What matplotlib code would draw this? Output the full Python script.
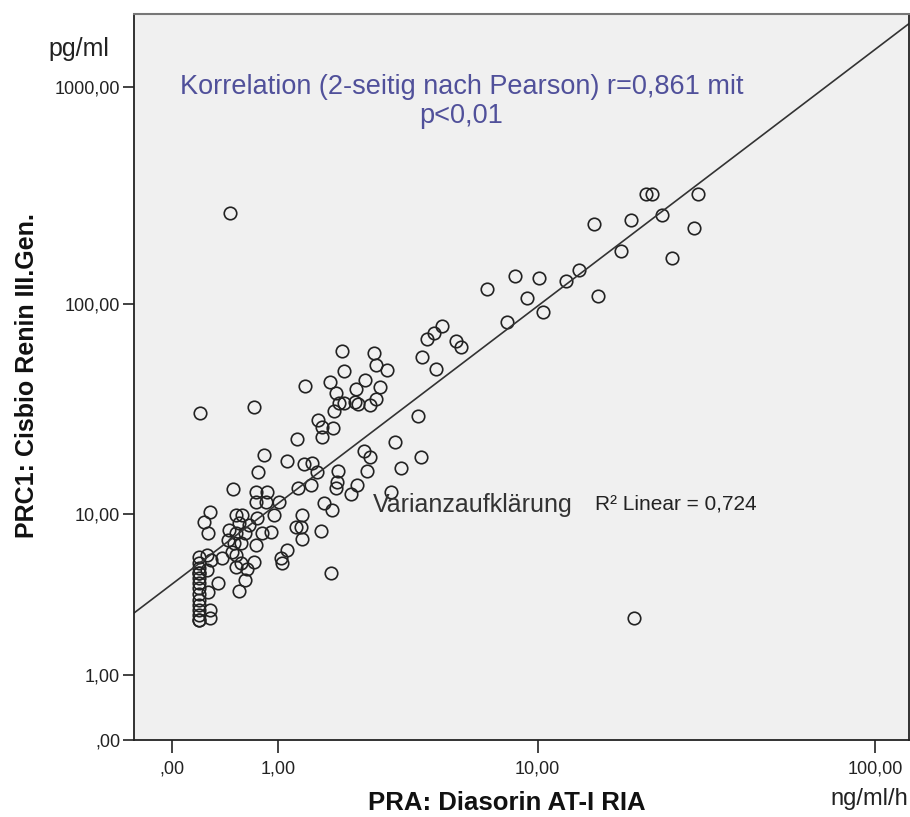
import numpy as np
import matplotlib
matplotlib.use("Agg")
import matplotlib.pyplot as plt
from matplotlib.ticker import NullLocator

plt.rcParams['font.family'] = ['Liberation Sans', 'DejaVu Sans']

# PRA (ng/ml/h) vs PRC (pg/ml)
pra_upper = [21.4, 22.3, 30.5, 14.9, 19.3, 23.9, 29.7, 18.0, 25.5, 6.9,
             8.5, 10.1, 12.3, 13.4, 9.3, 15.4, 10.4, 8.0, 4.89, 4.59,
             4.34, 5.46, 5.68, 4.17, 4.66]
prc_upper = [323, 323, 323, 235, 245, 258, 225, 176, 163, 117,
             135, 132, 128, 144, 107, 109, 92, 82.5, 79, 73.3,
             68.8, 67.3, 63, 56.7, 49.8]

pra_outl = [0.46, 0.20, 0.71, 19.7, 1.84]
prc_outl = [264, 30.9, 33, 2.64, 4.86]

pra_mid = [2.04, 2.77, 2.82, 3.11, 2.08, 1.82, 2.55, 2.92, 1.40, 1.94,
           2.35, 2.00, 2.10, 2.33, 2.39, 2.67, 2.82, 1.90, 1.61, 1.68,
           1.88, 1.68, 1.27, 4.03, 3.33, 2.53, 2.67, 2.60, 4.13, 3.50,
           3.22]
prc_mid = [60.4, 59.2, 52, 49.2, 48.7, 43.3, 44.2, 41, 41.4, 38.4,
           40.1, 34.4, 34.4, 34.8, 34.0, 33.7, 36, 31.5, 28.6, 26.5,
           26.2, 23.7, 23.2, 29.9, 22.4, 20.3, 19, 16.25, 19, 16.8,
           12.8]

pra_midlow = [0.83, 1.13, 1.38, 1.51, 1.58, 0.76, 1.98, 1.96, 1.94, 2.37,
              2.24, 1.71, 1.86, 1.66]
prc_midlow = [19.4, 18.2, 17.6, 17.8, 16.1, 16.1, 16.25, 14.36, 13.4, 13.87,
              12.5, 11.3, 10.4, 8.14]

pra_low = [0.49, 1.28, 1.49, 0.74, 0.87, 0.74, 0.85, 1.02, 0.28, 0.23,
           0.52, 0.58, 0.75, 0.95, 1.35, 1.26, 1.33, 0.55, 0.66, 0.27,
           0.44, 0.52, 0.61, 0.81, 0.92, 0.45, 0.50, 0.57, 0.74, 1.35,
           1.13, 1.05, 1.06, 0.48, 0.52, 0.39, 0.29, 0.57, 0.71, 0.52,
           0.63, 0.26, 0.61, 0.35, 0.27, 0.55, 0.28, 0.28, 0.26]
prc_low = [13.26, 13.4, 13.87, 12.8, 12.8, 11.43, 11.43, 11.43, 10.18, 9.05,
           9.83, 9.83, 9.49, 9.83, 9.83, 8.54, 8.54, 8.95, 8.74, 7.95,
           7.31, 7.95, 7.95, 7.95, 8.04, 8.24, 7.05, 7.05, 6.88, 7.4,
           6.47, 5.87, 5.51, 6.32, 6.09, 5.87, 5.73, 5.51, 5.58, 5.24,
           5.11, 5.05, 4.44, 4.27, 3.79, 3.85, 2.64, 2.96, 6.09]

# detection-limit column
pra_col = [0.19, 0.19, 0.19, 0.19, 0.19, 0.19, 0.19, 0.19, 0.19, 0.19,
           0.19, 0.19, 0.19, 0.19, 0.19]
prc_col = [5.94, 5.51, 5.18, 4.86, 4.56, 4.27, 4.0, 3.69, 3.40, 3.18,
           2.96, 2.76, 2.56, 2.56, 4.86]

# fit in log10(v+1) space
fit_intercept = 0.717
fit_slope = 1.227

x_ticks = [0, 1, 10, 100]
x_tick_labels = [',00', '1,00', '10,00', '100,00']
y_ticks = [0, 1, 10, 100, 1000]
y_tick_labels = [',00', '1,00', '10,00', '100,00', '1000,00']

pra = pra_upper + pra_outl + pra_mid + pra_midlow + pra_low + pra_col
prc = prc_upper + prc_outl + prc_mid + prc_midlow + prc_low + prc_col


def fwd(v):
    return np.log10(np.clip(np.asarray(v, dtype=float) + 1, 1e-6, None))


def inv(v):
    return 10 ** np.asarray(v, dtype=float) - 1


W, H = 910, 817
fig = plt.figure(figsize=(W / 100, H / 100), dpi=100)
ax = fig.add_axes([134 / W, 77 / H, 775 / W, 726 / H])
ax.set_facecolor('#f0f0f0')

ax.set_xscale('function', functions=(fwd, inv))
ax.set_yscale('function', functions=(fwd, inv))
ax.set_xlim(-0.221, 124.9)
ax.set_ylim(0, 2177)

ax.plot(pra, prc, 'o', ms=9, mfc='none', mec='#222222', mew=1.2, ls='none')

xs = np.linspace(-0.221, 124.9, 500)
ys = 10 ** (fit_intercept + fit_slope * np.log10(xs + 1)) - 1
ax.plot(xs, ys, color='#333333', lw=1.2)

ax.set_xticks(x_ticks)
ax.set_xticklabels(x_tick_labels)
ax.set_yticks(y_ticks)
ax.set_yticklabels(y_tick_labels)
ax.xaxis.set_minor_locator(NullLocator())
ax.yaxis.set_minor_locator(NullLocator())
ax.tick_params(axis='x', length=9, width=1.2, pad=6, labelsize=13, colors='#222222')
ax.tick_params(axis='y', length=8, width=1.2, pad=2, labelsize=13, colors='#222222')

for s in ['left', 'bottom', 'right']:
    ax.spines[s].set_color('#222222')
    ax.spines[s].set_linewidth(1.3)
ax.spines['top'].set_color('#777777')
ax.spines['top'].set_linewidth(1.5)

fig.text(79 / W, 1 - 49 / H, 'pg/ml', fontsize=18, ha='center', va='center', color='#222222')
fig.text(869 / W, 1 - 799 / H, 'ng/ml/h', fontsize=17, ha='center', va='center', color='#222222')
fig.text(507 / W, 1 - 803 / H, 'PRA: Diasorin AT-I RIA', fontsize=18.5, fontweight='bold',
         ha='center', va='center', color='#111111')
fig.text(27 / W, 1 - 376 / H, 'PRC1: Cisbio Renin III.Gen.', fontsize=18, fontweight='bold',
         rotation=90, ha='center', va='center', color='#111111')

fig.text(462 / W, 1 - 87 / H, 'Korrelation (2-seitig nach Pearson) r=0,861 mit',
         fontsize=19.5, ha='center', va='center', color='#50509a')
fig.text(461 / W, 1 - 116 / H, 'p<0,01',
         fontsize=19.5, ha='center', va='center', color='#50509a')
fig.text(373 / W, 1 - 505 / H, 'Varianzaufklärung', fontsize=18, ha='left', va='center',
         color='#333333')
fig.text(595 / W, 1 - 504 / H, 'R² Linear = 0,724', fontsize=15, ha='left', va='center',
         color='#222222')

fig.savefig('out.png', dpi=100)
